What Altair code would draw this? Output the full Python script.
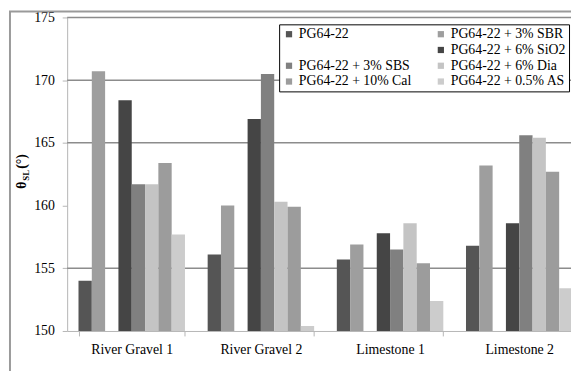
import altair as alt
import pandas as pd

groups = ["River Gravel 1", "River Gravel 2", "Limestone 1", "Limestone 2"]
series = ["PG64-22", "PG64-22 + 3% SBR", " ", "PG64-22 + 6% SiO2",
          "PG64-22 + 3% SBS", "PG64-22 + 6% Dia", "PG64-22 + 10% Cal",
          "PG64-22 + 0.5% AS"]
colors = ["#555555", "#9e9e9e", "#ffffff", "#454545",
          "#808080", "#c4c4c4", "#9c9c9c", "#cccccc"]
# legend is filled column by column; this order gives the reference's rows
legend_order = [0, 2, 4, 6, 1, 3, 5, 7]

pg64 = [154.0, 156.1, 155.7, 156.8]
sbr = [170.7, 160.0, 156.9, 163.2]
sio2 = [168.4, 166.9, 157.8, 158.6]
sbs = [161.7, 170.5, 156.5, 165.6]
dia = [161.7, 160.3, 158.6, 165.4]
cal = [163.4, 159.9, 155.4, 162.7]
as05 = [157.7, 150.4, 152.4, 153.4]

y_ticks = [150, 155, 160, 165, 170, 175]
grid_values = [155, 165, 170, 175]
title_parts = ["θ", "SL", "(°)"]

values_by_series = {
    series[0]: pg64, series[1]: sbr, series[3]: sio2, series[4]: sbs,
    series[5]: dia, series[6]: cal, series[7]: as05,
}
rows = []
for s, vals in values_by_series.items():
    for g, v in zip(groups, vals):
        rows.append({"group": g, "series": s, "value": v})
df = pd.DataFrame(rows)

FONT = "Liberation Serif"
yscale = alt.Scale(domain=[150, 175], zero=False, nice=False)
yaxis = alt.Axis(title=None, values=y_ticks, grid=False, labelFont=FONT,
                 labelFontSize=14, labelColor="black", tickSize=5,
                 tickColor="#b5b5b5", domainColor="#b5b5b5", labelPadding=8)

grid = alt.Chart(pd.DataFrame({"value": grid_values})).mark_rule(
    color="#8c8c8c", strokeWidth=1.5
).encode(y=alt.Y("value:Q", scale=yscale, axis=yaxis))

bars = alt.Chart(df).mark_bar(clip=True).encode(
    x=alt.X("group:N", sort=groups,
            scale=alt.Scale(domain=groups, range=[0, 524],
                            paddingInner=0.1756, paddingOuter=0.0878),
            axis=alt.Axis(title=None, labelFont=FONT, labelFontSize=14,
                          labelColor="black", labelAngle=0, tickBand="extent",
                          tickSize=5, tickColor="#b5b5b5", domainColor="#b5b5b5",
                          labelPadding=7)),
    xOffset=alt.XOffset("series:N",
                        scale=alt.Scale(domain=series, paddingInner=0, paddingOuter=0)),
    y=alt.Y("value:Q", scale=yscale, axis=yaxis),
    color=alt.Color("series:N",
                    scale=alt.Scale(domain=[series[i] for i in legend_order],
                                    range=[colors[i] for i in legend_order]),
                    legend=alt.Legend(orient="none", legendX=215, legendY=7,
                                      columns=2, title=None, symbolType="square",
                                      symbolSize=40, symbolStrokeWidth=0,
                                      labelFont=FONT, labelFontSize=14,
                                      labelColor="black", labelLimit=300,
                                      labelOffset=3, strokeColor="#000000",
                                      fillColor="#ffffff", padding=3,
                                      rowPadding=2, columnPadding=22)),
)

theta = alt.Chart(pd.DataFrame({"t": [title_parts[0]]})).mark_text(
    angle=270, font=FONT, fontSize=14, fontWeight="bold", align="center",
    baseline="middle", color="black"
).encode(x=alt.value(-46), y=alt.value(170), text="t:N")

sub = alt.Chart(pd.DataFrame({"t": [title_parts[1]]})).mark_text(
    angle=270, font=FONT, fontSize=9, fontWeight="bold", align="center",
    baseline="middle", color="black"
).encode(x=alt.value(-42), y=alt.value(160), text="t:N")

unit = alt.Chart(pd.DataFrame({"t": [title_parts[2]]})).mark_text(
    angle=270, font=FONT, fontSize=14, fontWeight="bold", align="center",
    baseline="middle", color="black"
).encode(x=alt.value(-46), y=alt.value(146), text="t:N")

border = alt.Chart(pd.DataFrame({"a": [0]})).mark_rect(
    fill=None, stroke="#9a9a9a", strokeWidth=2
).encode(x=alt.value(-58), x2=alt.value(700), y=alt.value(-6), y2=alt.value(500))

chart = alt.layer(grid, bars, theta, sub, unit, border).properties(
    width=511, height=318,
    autosize=alt.AutoSizeParams(type="none"),
    padding={"left": 60, "top": 7, "right": 0, "bottom": 38},
).configure_view(stroke=None)

chart.save("out.html", embed_options={"renderer": "svg", "actions": False})
